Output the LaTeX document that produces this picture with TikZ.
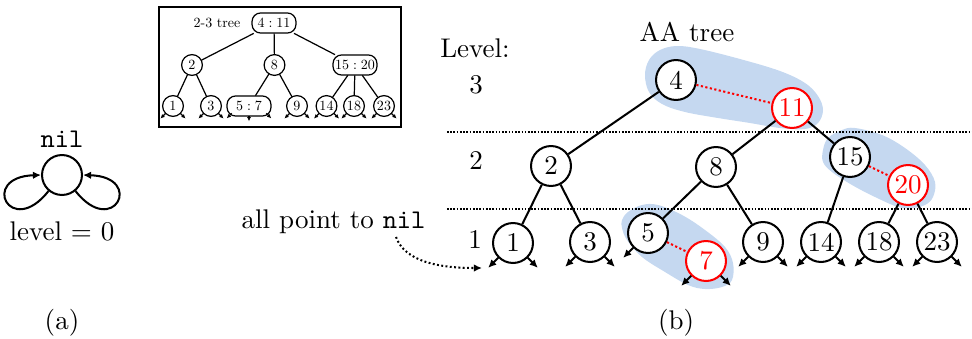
\documentclass[tikz,border=0pt]{standalone}
\usetikzlibrary{arrows.meta}
\definecolor{blobblue}{RGB}{197,216,240}
\begin{document}
\begin{tikzpicture}[x=0.37037pt, y=-0.37037pt,
  tn/.style={circle, draw, line width=0.75pt, minimum size=14.8pt, inner sep=0pt, fill=white},
  rn/.style={tn, draw=red, text=red},
  edge/.style={line width=0.75pt},
  reddot/.style={red, line width=0.75pt, dash pattern=on 0.8pt off 0.9pt},
  levline/.style={line width=0.75pt, dash pattern=on 0.6pt off 0.6pt},
  nilarr/.style={line width=0.75pt, -{Latex[length=3pt,width=2.8pt]}},
  ptrarr/.style={line width=0.75pt, dash pattern=on 0.7pt off 0.9pt, -{Latex[length=3pt,width=2.8pt]}},
  blob/.style={fill=blobblue, draw=none},
  itn/.style={circle, draw, line width=0.45pt, minimum size=14.8pt, inner sep=0pt, scale=0.52, fill=white},
  irn/.style={rectangle, rounded corners=3.2pt, draw, line width=0.45pt, minimum height=14.3pt, minimum width=31.3pt, inner sep=1pt, scale=0.52, fill=white},
  iedge/.style={line width=0.45pt},
  iarr/.style={line width=0.45pt, -{Latex[length=1.6pt,width=1.5pt]}},
  lbl/.style={anchor=base, inner sep=0pt},
]
\useasboundingbox (0,0) rectangle (972,338);

% ---------- (a) nil ----------
\node[tn] (nilnode) at (62,175) {};
\node[lbl] (niltxt) at (62,147) {\texttt{nil}};
\node[lbl] (lev0) at (62,240) {level $=$ 0};
\draw[nilarr] (nilnode.-130) .. controls +(-38,48) and +(-62,2) .. (nilnode.west);
\draw[nilarr] (nilnode.-50) .. controls +(38,48) and +(62,2) .. (nilnode.east);
\node[lbl] (capa) at (62,329) {(a)};

% ---------- inset 2-3 tree ----------
\draw[line width=0.55pt] (159,7) rectangle (401,127);
\node[scale=0.52, inner sep=0pt] (ititle) at (217,23) {2-3 tree};
\node[irn] (i411) at (274,23) {$4:11$};
\node[itn] (i2) at (192,65) {2};
\node[itn] (i8) at (274.5,65) {8};
\node[irn] (i1520) at (355,65) {$15:20$};
\node[itn] (i1) at (173,106) {1};
\node[itn] (i3) at (211,106) {3};
\node[irn] (i57) at (249,106) {$5:7$};
\node[itn] (i9) at (297,106) {9};
\node[itn] (i14) at (326.5,106) {14};
\node[itn] (i18) at (354,106) {18};
\node[itn] (i23) at (384,106) {23};
\draw[iedge] (i411) -- (i2);
\draw[iedge] (i411) -- (i8);
\draw[iedge] (i411) -- (i1520);
\draw[iedge] (i2) -- (i1);
\draw[iedge] (i2) -- (i3);
\draw[iedge] (i8) -- (i57);
\draw[iedge] (i8) -- (i9);
\draw[iedge] (i1520) -- (i14);
\draw[iedge] (i1520) -- (i18);
\draw[iedge] (i1520) -- (i23);
\foreach \n in {i1,i3,i9,i14,i18,i23}{
  \draw[iarr] (\n.-135) -- ++(-5,5);
  \draw[iarr] (\n.-45) -- ++(5,5);
}
\draw[iarr] (i57.south west) ++(5,-3) -- ++(-5,5);
\draw[iarr] (i57.south east) ++(-5,-3) -- ++(5,5);
\draw[iarr] (i57.south) -- ++(0,5);

% ---------- (b) AA tree ----------
\fill[blob] plot[smooth cycle, tension=0.6] coordinates {(645,75) (649,60) (660,50) (677,46) (700,49) (740,59) (780,71) (805,83) (818,96) (823,110) (818,123) (805,129) (780,128) (750,123) (718,118) (685,112) (662,104) (649,92)};
\fill[blob] plot[smooth cycle, tension=0.6] coordinates {(823,150) (828,138) (842,130) (855,128) (882,135) (905,148) (925,165) (935,182) (933,197) (925,205) (912,208) (898,207) (875,197) (852,185) (832,172) (823,162)};
\fill[blob] plot[smooth cycle, tension=0.6] coordinates {(622,220) (628,212) (642,205) (658,205) (682,215) (705,230) (725,247) (733,263) (732,280) (722,287) (705,289) (688,285) (665,272) (642,257) (627,240) (622,228)};

\coordinate (l3a) at (447,132); \coordinate (l3b) at (972,132);
\coordinate (l2a) at (447,209); \coordinate (l2b) at (972,209);
\draw[levline] (l3a) -- (l3b);
\draw[levline] (l2a) -- (l2b);

\node[lbl] (aatitle) at (687,41) {AA tree};
\node[lbl] (levtitle) at (475,57) {Level:};
\node[lbl] (lv3) at (476,93) {3};
\node[lbl] (lv2) at (476,169) {2};
\node[lbl] (lv1) at (475,248) {1};

\node[tn] (n4) at (676,80) {4};
\node[rn] (n11) at (792,108) {11};
\node[tn] (n2) at (551,166) {2};
\node[tn] (n8) at (716,167) {8};
\node[tn] (n15) at (850,157) {15};
\node[rn] (n20) at (908,185) {20};
\node[tn] (n1) at (513,243) {1};
\node[tn] (n3) at (590,242) {3};
\node[tn] (n5) at (648,233) {5};
\node[rn] (n7) at (706,261) {7};
\node[tn] (n9) at (763,242) {9};
\node[tn] (n14) at (821,242) {14};
\node[tn] (n18) at (879,242) {18};
\node[tn] (n23) at (937,242) {23};

\draw[edge] (n4) -- (n2);
\draw[edge] (n11) -- (n8);
\draw[edge] (n11) -- (n15);
\draw[edge] (n2) -- (n1);
\draw[edge] (n2) -- (n3);
\draw[edge] (n8) -- (n5);
\draw[edge] (n8) -- (n9);
\draw[edge] (n15) -- (n14);
\draw[edge] (n20) -- (n18);
\draw[edge] (n20) -- (n23);
\draw[reddot] (n4) -- (n11);
\draw[reddot] (n15) -- (n20);
\draw[reddot] (n5) -- (n7);

\foreach \n in {n1,n3,n7,n9,n14,n18,n23}{
  \draw[nilarr] (\n.-135) -- ++(-10,10);
  \draw[nilarr] (\n.-45) -- ++(10,10);
}
\draw[nilarr] (n5.-135) -- ++(-10,10);

\node[lbl] (apt) at (333.5,228) {all point to \texttt{nil}};
\coordinate (ptrstart) at (396,237);
\coordinate (ptrend) at (482,268);
\draw[ptrarr] (ptrstart) .. controls (405,262) and (440,268) .. (ptrend);

\node[lbl] (capb) at (676,329) {(b)};
\end{tikzpicture}
\end{document}
